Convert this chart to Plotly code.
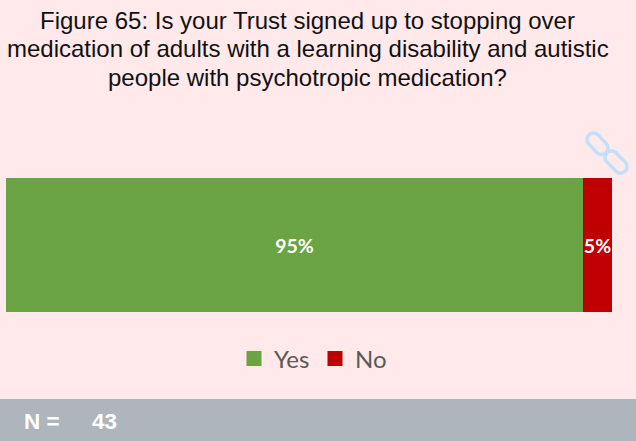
import numpy as np
import plotly.graph_objects as go

W, H = 636, 441
categories = ["Q65"]
yes_values = [95.2]
no_values = [4.8]
series_names = ["Yes", "No"]
series_colors = ["#6aa444", "#c00000"]
bar_labels = ["95%", "5%"]
title_lines = [
    "Figure 65: Is your Trust signed up to stopping over",
    "medication of adults with a learning disability and autistic",
    "people with psychotropic medication?",
]
n_label = "N ="
n_value = "43"


def px(x):
    return x / W


def py(y):
    return 1 - y / H


def capsule(x0, y0, x1, y1, r):
    a = np.arctan2(y1 - y0, x1 - x0)
    t1 = np.linspace(a + np.pi / 2, a + 3 * np.pi / 2, 14)
    t2 = np.linspace(a - np.pi / 2, a + np.pi / 2, 14)
    xs = np.r_[x0 + r * np.cos(t1), x1 + r * np.cos(t2)]
    ys = np.r_[y0 + r * np.sin(t1), y1 + r * np.sin(t2)]
    pts = [f"{px(x):.5f},{py(y):.5f}" for x, y in zip(xs, ys)]
    return "M" + " L".join(pts) + " Z"


fig = go.Figure()
for name, vals, col, lab in zip(series_names, [yes_values, no_values], series_colors, bar_labels):
    fig.add_trace(go.Bar(
        y=categories, x=vals, name=name, orientation="h", showlegend=False,
        marker=dict(color=col, line=dict(width=0)),
        text=[lab], textposition="inside", insidetextanchor="middle", textangle=0,
        textfont=dict(family="Lato", size=19.5, color="white", weight="bold"),
        constraintext="none", cliponaxis=False,
    ))
for name, col in zip(series_names, series_colors):
    fig.add_trace(go.Scatter(
        x=[None], y=[None], mode="markers", name=name,
        marker=dict(symbol="square", size=15, color=col),
    ))

link_col = "#c3dffb"
shapes = [
    dict(type="rect", xref="paper", yref="paper", x0=0, x1=1, y0=0, y1=py(399),
         fillcolor="#adb5bd", line=dict(width=0), layer="below"),
    dict(type="path", xref="paper", yref="paper", path=capsule(593.5, 139.5, 601.5, 148, 6.5),
         line=dict(color=link_col, width=3.5)),
    dict(type="path", xref="paper", yref="paper", path=capsule(611.5, 157.5, 620.5, 166.5, 6.5),
         line=dict(color=link_col, width=3.5)),
]

annotations = [
    dict(x=px(307.5), y=py(yc), xref="paper", yref="paper", showarrow=False, align="center",
         yanchor="middle",
         text=line, font=dict(family="Liberation Sans", size=24, color="#111111"))
    for line, yc in zip(title_lines, [20, 48.5, 77])
] + [
    dict(x=px(22), y=py(421), xref="paper", yref="paper", showarrow=False, xanchor="left",
         yanchor="middle",
         text=n_label, font=dict(family="Liberation Sans", size=22.5, color="white", weight="bold")),
    dict(x=px(90), y=py(421), xref="paper", yref="paper", showarrow=False, xanchor="left",
         yanchor="middle",
         text=n_value, font=dict(family="Liberation Sans", size=22.5, color="white", weight="bold")),
]

fig.update_layout(
    width=W, height=H, autosize=False,
    margin=dict(l=0, r=0, t=0, b=0),
    paper_bgcolor="#ffe9ea", plot_bgcolor="rgba(0,0,0,0)",
    barmode="stack", bargap=0,
    xaxis=dict(domain=[px(6), px(612)], range=[0, 100], visible=False),
    yaxis=dict(domain=[py(312), py(178)], visible=False),
    legend=dict(orientation="h", x=px(315), xanchor="center", y=py(359), yanchor="middle",
                traceorder="normal", itemsizing="trace", entrywidth=36, entrywidthmode="pixels",
                font=dict(family="Lato", size=24, color="#595959"), bgcolor="rgba(0,0,0,0)",
                itemwidth=30),
    shapes=shapes, annotations=annotations, showlegend=True,
)
fig.write_html("out.html", config=dict(displayModeBar=False),
               post_script="document.body.style.margin='0';")
